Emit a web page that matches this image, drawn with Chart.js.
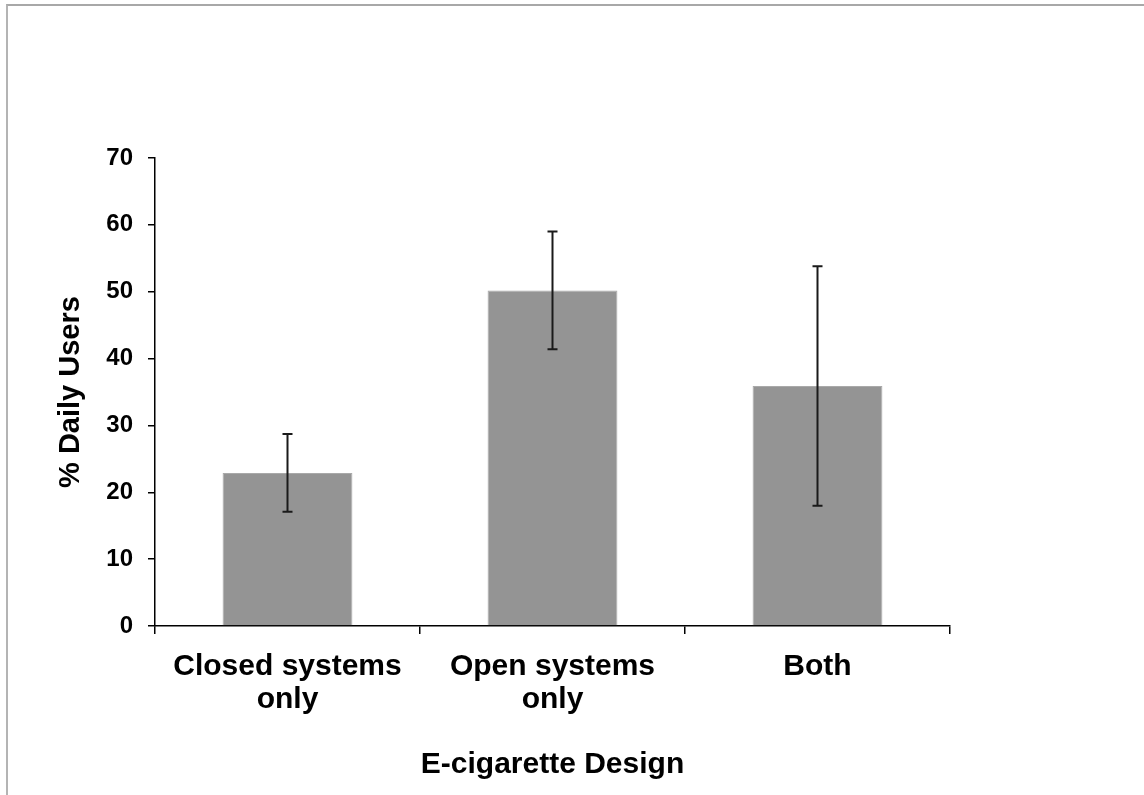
<!DOCTYPE html>
<html>
<head>
<meta charset="utf-8">
<title>E-cigarette Design</title>
<script src="https://cdn.jsdelivr.net/npm/chart.js@4.4.1/dist/chart.umd.min.js"></script>
<style>
    html, body { margin: 0; padding: 0; background: #fff; }
    .wrap { position: relative; width: 1144px; height: 795px; }
    .frame {
        position: absolute; left: 6px; top: 4px; right: 0; bottom: 0;
        border-top: 2px solid #a8a8a8; border-left: 2px solid #b4b4b4;
        pointer-events: none;
    }
</style>
</head>
<body>
<div class="wrap">
    <canvas id="chart"></canvas>
    <div class="frame"></div>
</div>
<script>
const categories = [['Closed systems', 'only'], ['Open systems', 'only'], 'Both'];
const dailyUsers = [22.9, 50.2, 35.9];
const errorMargins = [5.8, 8.8, 17.9];
const yTicks = [0, 10, 20, 30, 40, 50, 60, 70];

const FONT = '"Liberation Sans", Arial, Helvetica, sans-serif';

// draws the error bars on top of each bar
const errorBars = {
    id: 'errorBars',
    afterDatasetsDraw(chart) {
        const { ctx, scales: { y } } = chart;
        const meta = chart.getDatasetMeta(0);
        ctx.save();
        ctx.strokeStyle = '#1a1a1a';
        ctx.lineWidth = 2;
        meta.data.forEach((bar, i) => {
            const top = y.getPixelForValue(dailyUsers[i] + errorMargins[i]);
            const bottom = y.getPixelForValue(dailyUsers[i] - errorMargins[i]);
            ctx.beginPath();
            ctx.moveTo(bar.x, top);
            ctx.lineTo(bar.x, bottom);
            ctx.moveTo(bar.x - 5, top);
            ctx.lineTo(bar.x + 5, top);
            ctx.moveTo(bar.x - 5, bottom);
            ctx.lineTo(bar.x + 5, bottom);
            ctx.stroke();
        });
        ctx.restore();
    }
};

const ctx = document.getElementById('chart').getContext('2d');

new Chart(ctx, {
    type: 'bar',
    data: {
        labels: categories,
        datasets: [
            {
                data: dailyUsers,
                backgroundColor: '#949494',
                borderColor: '#a9a9a9',
                borderWidth: { left: 1, right: 1, top: 1, bottom: 0 },
                barPercentage: 0.49,
                categoryPercentage: 1
            }
        ]
    },
    options: {
        responsive: true,
        maintainAspectRatio: false,
        animation: false,
        layout: { padding: { top: 158, right: 194, bottom: 0, left: 0 } },
        plugins: {
            legend: { display: false },
            tooltip: { enabled: false }
        },
        scales: {
            x: {
                afterFit: scale => { scale.height = 169; },
                grid: {
                    offset: true,
                    drawOnChartArea: false,
                    drawTicks: true,
                    tickLength: 8,
                    color: '#000',
                    lineWidth: 1.5
                },
                border: { display: true, color: '#000', width: 1.5 },
                ticks: {
                    color: '#000',
                    padding: 16,
                    maxRotation: 0,
                    autoSkip: false,
                    font: { family: FONT, size: 30, weight: 'bold', lineHeight: 1.1 }
                },
                title: {
                    display: true,
                    text: 'E-cigarette Design',
                    color: '#000',
                    padding: { top: 0, bottom: 12 },
                    font: { family: FONT, size: 30, weight: 'bold', lineHeight: 1.2 }
                }
            },
            y: {
                min: 0,
                max: 70,
                afterFit: scale => { scale.width = 155; },
                afterBuildTicks: scale => { scale.ticks = yTicks.map(v => ({ value: v })); },
                grid: {
                    drawOnChartArea: false,
                    drawTicks: true,
                    tickLength: 7,
                    color: '#000',
                    lineWidth: 1.5
                },
                border: { display: true, color: '#000', width: 1.5 },
                ticks: {
                    color: '#000',
                    padding: 15,
                    font: { family: FONT, size: 24, weight: 'bold' }
                },
                title: {
                    display: true,
                    text: '% Daily Users',
                    color: '#000',
                    padding: { top: 54, bottom: 0 },
                    font: { family: FONT, size: 29, weight: 'bold', lineHeight: 1.2 }
                }
            }
        }
    },
    plugins: [errorBars]
});
</script>
</body>
</html>
